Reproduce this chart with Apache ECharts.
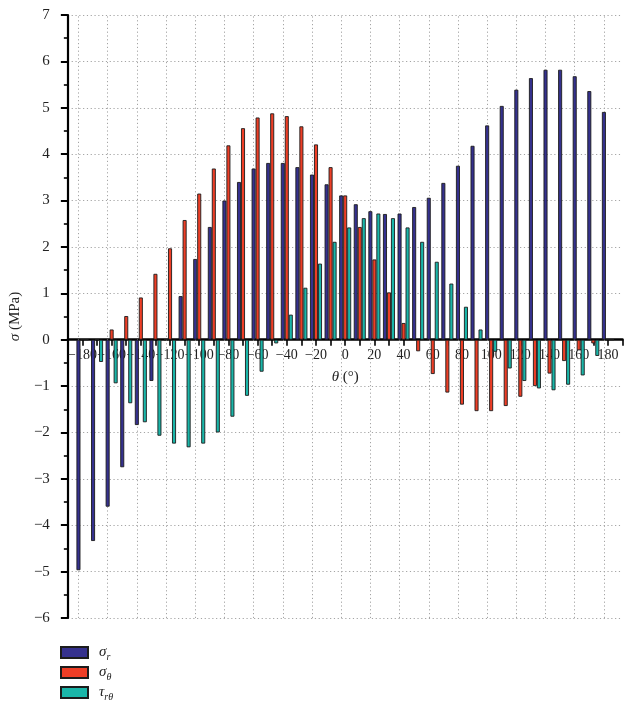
<!DOCTYPE html>
<html>
<head>
<meta charset="utf-8">
<script src="https://cdn.jsdelivr.net/npm/echarts@6/dist/echarts.min.js"></script>
<style>
  html, body { margin: 0; padding: 0; background: #ffffff; }
  #chart { width: 626px; height: 705px; }
</style>
</head>
<body>
<div id="chart"></div>
<script>
// Angle around the opening, degrees
const angles = [-180, -170, -160, -150, -140, -130, -120, -110, -100, -90,
                -80, -70, -60, -50, -40, -30, -20, -10, 0, 10,
                20, 30, 40, 50, 60, 70, 80, 90, 100, 110,
                120, 130, 140, 150, 160, 170, 180];

// Radial stress σr (MPa)
const sigmaR = [-4.97, -4.34, -3.60, -2.75, -1.84, -0.89, 0.00, 0.94, 1.74, 2.43,
                3.00, 3.40, 3.69, 3.81, 3.81, 3.72, 3.56, 3.35, 3.11, 2.92,
                2.77, 2.71, 2.72, 2.86, 3.06, 3.38, 3.75, 4.18, 4.62, 5.04,
                5.39, 5.64, 5.82, 5.82, 5.68, 5.36, 4.91];

// Hoop stress σθ (MPa)
const sigmaTheta = [0.00, 0.00, 0.22, 0.51, 0.91, 1.42, 1.97, 2.58, 3.15, 3.69,
                    4.19, 4.56, 4.79, 4.88, 4.82, 4.60, 4.21, 3.72, 3.11, 2.43,
                    1.73, 1.02, 0.36, -0.25, -0.74, -1.14, -1.40, -1.54, -1.54, -1.43,
                    -1.23, -1.00, -0.73, -0.46, -0.23, -0.08, 0.00];

// Shear stress τrθ (MPa)
const tauRTheta = [0.00, -0.48, -0.94, -1.37, -1.78, -2.07, -2.24, -2.32, -2.24, -2.00,
                   -1.66, -1.21, -0.69, -0.08, 0.54, 1.12, 1.64, 2.11, 2.42, 2.62,
                   2.72, 2.62, 2.42, 2.11, 1.68, 1.21, 0.71, 0.22, -0.26, -0.62,
                   -0.89, -1.05, -1.09, -0.97, -0.77, -0.35, 0.00];

// Labelled angles (also where the vertical dotted guides sit)
const labelAngles = [-180, -160, -140, -120, -100, -80, -60, -40, -20, 0,
                     20, 40, 60, 80, 100, 120, 140, 160, 180];

const Y_MIN = -6;
const Y_MAX = 7;

const seriesNames = ['σr', 'σθ', 'τrθ'];
const seriesColors = ['#35318e', '#ee3e26', '#1ab6a9'];
const seriesValues = [sigmaR, sigmaTheta, tauRTheta];

const SERIF = '"Liberation Serif", "DejaVu Serif", "Times New Roman", serif';
const MINUS = '\u2212';
const signed = v => (v < 0 ? MINUS + Math.abs(v) : String(v));

const legendRich = {
  'σr': '{g|σ}{s|r}',
  'σθ': '{g|σ}{s|θ}',
  'τrθ': '{g|τ}{s|rθ}'
};

const dotted = { type: [1.2, 2.6], color: '#a4a4a4', width: 1 };

// Plot box
const GRID_TOP = 15;
const GRID_BOTTOM = 87;
const CHART_H = 705;
const plotH = CHART_H - GRID_TOP - GRID_BOTTOM;
// lift the horizontal axis from the plot bottom up to the zero line
const zeroLift = -plotH * (0 - Y_MIN) / (Y_MAX - Y_MIN);

const series = seriesNames.map((name, k) => {
  const s = {
    name: name,
    type: 'bar',
    barWidth: 4,
    barGap: '0%',
    z: 2,
    itemStyle: { color: seriesColors[k], borderColor: '#1c1c1c', borderWidth: 0.9 },
    emphasis: { disabled: true },
    data: angles.map((a, i) => [a, seriesValues[k][i]])
  };
  if (k === 0) {
    s.markLine = {
      silent: true,
      z: 1,
      symbol: ['none', 'none'],
      label: { show: false },
      lineStyle: dotted,
      emphasis: { disabled: true },
      data: labelAngles.map(a => ({ xAxis: a }))
    };
  }
  return s;
});

const chart = echarts.init(document.getElementById('chart'), null, { renderer: 'canvas' });
chart.setOption({
  animation: false,
  backgroundColor: '#ffffff',
  grid: { left: 62.5, right: 3.5, top: GRID_TOP, bottom: GRID_BOTTOM, containLabel: false },
  xAxis: {
    type: 'value',
    min: -190,
    max: 190,
    interval: 10,
    position: 'bottom',
    offset: zeroLift,
    name: '{i|θ} (°)',
    nameLocation: 'middle',
    nameGap: 30,
    nameTextStyle: {
      fontFamily: SERIF, fontSize: 15, color: '#222',
      rich: { i: { fontFamily: SERIF, fontSize: 15, fontStyle: 'italic', color: '#222' } }
    },
    axisLine: { onZero: false, lineStyle: { color: '#000', width: 2.5 } },
    axisTick: { show: true, length: 6, lineStyle: { color: '#000', width: 1.6 } },
    axisLabel: {
      margin: 9,
      fontFamily: SERIF, fontSize: 14, color: '#222',
      formatter: v => (labelAngles.indexOf(v) >= 0 ? signed(v) : '')
    },
    splitLine: { show: false }
  },
  yAxis: {
    type: 'value',
    min: Y_MIN,
    max: Y_MAX,
    interval: 1,
    name: '{i|σ} (MPa)',
    nameLocation: 'middle',
    nameGap: 38,
    nameTextStyle: {
      fontFamily: SERIF, fontSize: 15, color: '#222',
      rich: { i: { fontFamily: SERIF, fontSize: 15, fontStyle: 'italic', color: '#222' } }
    },
    axisLine: { show: true, onZero: false, lineStyle: { color: '#000', width: 2.2 } },
    axisTick: { show: true, length: 7, lineStyle: { color: '#000', width: 2 } },
    minorTick: { show: true, splitNumber: 2, length: 4, lineStyle: { color: '#000', width: 1.6 } },
    axisLabel: { margin: 18, fontFamily: SERIF, fontSize: 15, color: '#222', formatter: signed },
    splitLine: { show: true, lineStyle: dotted }
  },
  legend: {
    orient: 'vertical',
    left: 55,
    top: 645,
    padding: [0, 5, 0, 5],
    icon: 'rect',
    itemWidth: 27,
    itemHeight: 11,
    itemGap: 2.5,
    selectedMode: false,
    data: seriesNames,
    formatter: name => legendRich[name],
    textStyle: {
      fontFamily: SERIF, color: '#222',
      rich: {
        g: { fontFamily: SERIF, fontSize: 15, lineHeight: 20, fontStyle: 'italic', color: '#222', padding: [0, 0, 0, 6] },
        s: { fontFamily: SERIF, fontSize: 10, lineHeight: 10, fontStyle: 'italic', color: '#222', verticalAlign: 'bottom' }
      }
    }
  },
  series: series
});
</script>
</body>
</html>
